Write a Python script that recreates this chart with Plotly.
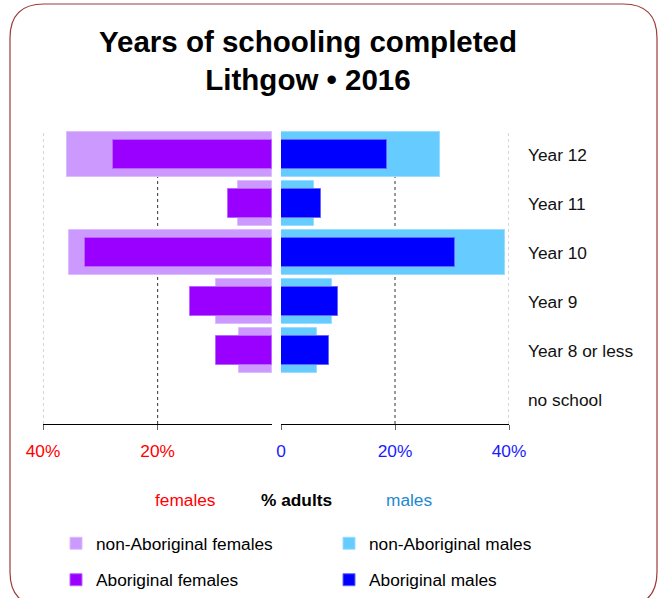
import plotly.graph_objects as go

# Years of schooling completed, % of adults, Lithgow 2016
categories = ["Year 12", "Year 11", "Year 10", "Year 9", "Year 8 or less", "no school"]
non_aboriginal_females = [35.9, 6.0, 35.5, 9.8, 5.8, 0.0]
aboriginal_females = [27.8, 7.7, 32.7, 14.4, 9.8, 0.0]
non_aboriginal_males = [27.9, 5.8, 39.3, 8.9, 6.4, 0.0]
aboriginal_males = [18.6, 7.1, 30.5, 10.0, 8.5, 0.0]

female_tick_vals = [40, 20]
female_tick_text = ["40%", "20%"]
male_tick_vals = [0, 20, 40]
male_tick_text = ["0", "20%", "40%"]

W, H = 663, 598
ML, MR, MT, MB = 43, 154, 130, 174
PW, PH = W - ML - MR, H - MT - MB
FONT = "Liberation Sans, Arial, Helvetica, sans-serif"
FS = 17.3


def px_x(p):
    return (p - ML) / PW


def px_y(p):
    return (H - MB - p) / PH


def outline(values, color):
    # thin lighter edge; skipped on empty bars so nothing is drawn there
    return dict(color=color, width=[1 if v > 0 else 0 for v in values])


fig = go.Figure()

fig.add_trace(go.Bar(
    name="non-Aboriginal females", y=categories, x=non_aboriginal_females,
    orientation="h", xaxis="x", yaxis="y", width=0.9,
    marker=dict(color="#CC99FF", line=outline(non_aboriginal_females, "#DDBBFF")),
    legend="legend"))
fig.add_trace(go.Bar(
    name="non-Aboriginal males", y=categories, x=non_aboriginal_males,
    orientation="h", xaxis="x2", yaxis="y", width=0.9,
    marker=dict(color="#66CCFF", line=outline(non_aboriginal_males, "#99DDFF")),
    legend="legend2"))
fig.add_trace(go.Bar(
    name="Aboriginal females", y=categories, x=aboriginal_females,
    orientation="h", xaxis="x", yaxis="y", width=0.59,
    marker=dict(color="#9900FF", line=outline(aboriginal_females, "#B866FF")),
    legend="legend3"))
fig.add_trace(go.Bar(
    name="Aboriginal males", y=categories, x=aboriginal_males,
    orientation="h", xaxis="x2", yaxis="y", width=0.59,
    marker=dict(color="#0000FF", line=outline(aboriginal_males, "#6666FF")),
    legend="legend4"))

split_left = px_x(272.3)
split_right = px_x(281)

axis_common = dict(
    showgrid=False, zeroline=False, showline=True, linecolor="#000000", linewidth=1,
    ticks="outside", ticklen=5, tickcolor="#666666", tickwidth=1,
    ticklabelstandoff=6, fixedrange=True,
)

shapes = []
# dotted gridlines at 20% (dark) and 40% (grey) on both halves
for ax in ("x", "x2"):
    for v, col in ((20, "#333333"), (40, "#AAAAAA")):
        shapes.append(dict(type="line", xref=ax, yref="paper", x0=v, x1=v, y0=0, y1=1,
                           line=dict(color=col, width=1, dash="dot"), layer="below"))

# rounded frame around the whole chart
bx0, bx1, by0, by1, r = 10, 657, 4, 606, 34
path = (
    f"M {px_x(bx0 + r)} {px_y(by0)} L {px_x(bx1 - r)} {px_y(by0)} "
    f"Q {px_x(bx1)} {px_y(by0)} {px_x(bx1)} {px_y(by0 + r)} "
    f"L {px_x(bx1)} {px_y(by1 - r)} "
    f"Q {px_x(bx1)} {px_y(by1)} {px_x(bx1 - r)} {px_y(by1)} "
    f"L {px_x(bx0 + r)} {px_y(by1)} "
    f"Q {px_x(bx0)} {px_y(by1)} {px_x(bx0)} {px_y(by1 - r)} "
    f"L {px_x(bx0)} {px_y(by0 + r)} "
    f"Q {px_x(bx0)} {px_y(by0)} {px_x(bx0 + r)} {px_y(by0)} Z"
)
shapes.append(dict(type="path", xref="paper", yref="paper", path=path,
                   line=dict(color="#9E3A3A", width=1.2), fillcolor="rgba(0,0,0,0)"))

axis_title_y = px_y(500)
annotations = [
    dict(text="females", x=px_x(185.7), y=axis_title_y, xref="paper", yref="paper",
         xanchor="center", yanchor="middle", showarrow=False,
         font=dict(family=FONT, size=FS, color="#FF0000")),
    dict(text="<b>% adults</b>", x=px_x(296), y=axis_title_y, xref="paper", yref="paper",
         xanchor="center", yanchor="middle", showarrow=False,
         font=dict(family=FONT, size=FS, color="#000000")),
    dict(text="males", x=px_x(409), y=axis_title_y, xref="paper", yref="paper",
         xanchor="center", yanchor="middle", showarrow=False,
         font=dict(family=FONT, size=FS, color="#1E88D0")),
]


def legend_at(px, py):
    # one entry per legend box, placed in page pixels
    return dict(
        orientation="h", xref="container", yref="container",
        x=px / W, y=1 - py / H, xanchor="left", yanchor="middle",
        bgcolor="rgba(0,0,0,0)", borderwidth=0,
        font=dict(family=FONT, size=FS, color="#000000"),
    )


fig.update_layout(
    width=W, height=H,
    margin=dict(l=ML, r=MR, t=MT, b=MB, pad=0, autoexpand=False),
    paper_bgcolor="white", plot_bgcolor="white",
    barmode="overlay", bargap=0,
    showlegend=True,
    font=dict(family=FONT, size=FS, color="#000000"),
    title=dict(text="<b>Years of schooling completed<br>Lithgow • 2016</b>",
               x=308 / W, xanchor="center", xref="container",
               y=1 - 52 / H, yanchor="top", yref="container",
               font=dict(family=FONT, size=29.5, color="#000000")),
    xaxis=dict(domain=[0, split_left], range=[40, 0], anchor="y",
               tickvals=female_tick_vals, ticktext=female_tick_text,
               tickfont=dict(family=FONT, size=FS, color="#FF0000"), **axis_common),
    xaxis2=dict(domain=[split_right, 1], range=[0, 40], anchor="y",
                tickvals=male_tick_vals, ticktext=male_tick_text,
                tickfont=dict(family=FONT, size=FS, color="#1A1AFF"), **axis_common),
    yaxis=dict(anchor="x2", side="right", autorange="reversed", showgrid=False,
               zeroline=False, showline=False, ticks="", ticklabelstandoff=18,
               tickfont=dict(family=FONT, size=FS, color="#111111"), fixedrange=True),
    legend=legend_at(56, 543.5),
    legend2=legend_at(329, 543.5),
    legend3=legend_at(56, 580),
    legend4=legend_at(329, 580),
    shapes=shapes,
    annotations=annotations,
)

fig.write_html("out.html")
